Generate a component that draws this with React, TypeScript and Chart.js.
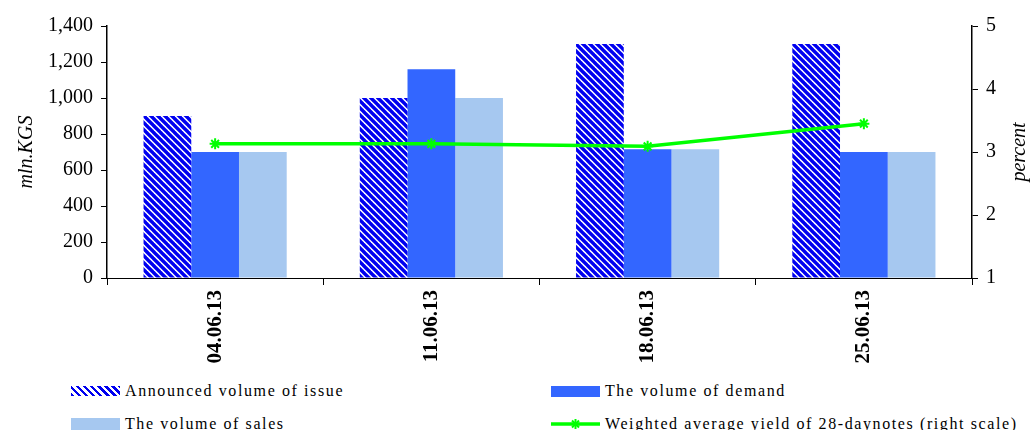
import React, { useEffect, useRef } from "react";
import { Chart, registerables } from "chart.js";

Chart.register(...registerables);

const categories = ["04.06.13", "11.06.13", "18.06.13", "25.06.13"];
const announcedVolume = [900, 1000, 1300, 1300];
const demandVolume = [700, 1160, 715, 700];
const salesVolume = [700, 1000, 715, 700];
const weightedYield = [3.13, 3.13, 3.09, 3.45];

const leftAxisMin = 0;
const leftAxisMax = 1400;
const leftAxisStep = 200;
const rightAxisMin = 1;
const rightAxisMax = 5;
const rightAxisStep = 1;

const seriesNames = [
  "Announced volume of issue",
  "The volume of demand",
  "The volume of sales",
  "Weighted average yield of 28-daynotes (right scale)",
];

const SERIF = '"Liberation Serif", "Times New Roman", serif';
const HATCH_BLUE = "#0000f0";
const DEMAND_BLUE = "#3366ff";
const SALES_BLUE = "#a6c8f0";
const GREEN = "#00ff00";

function makeHatch(): CanvasPattern | string {
  const size = 7;
  const c = document.createElement("canvas");
  c.width = size;
  c.height = size;
  const g = c.getContext("2d");
  if (!g) return HATCH_BLUE;
  g.fillStyle = "#ffffff";
  g.fillRect(0, 0, size, size);
  g.strokeStyle = HATCH_BLUE;
  g.lineWidth = 3.4;
  for (let k = -1; k <= 1; k++) {
    g.beginPath();
    g.moveTo(k * size - 1, -1);
    g.lineTo(k * size + size + 1, size + 1);
    g.stroke();
  }
  const p = g.createPattern(c, "repeat");
  return p || HATCH_BLUE;
}

const rightTitlePlugin = {
  id: "rightTitle",
  afterDraw(chart: any) {
    const { ctx, chartArea } = chart;
    ctx.save();
    ctx.translate(chart.width - 12, (chartArea.top + chartArea.bottom) / 2);
    ctx.rotate(-Math.PI / 2);
    ctx.font = `italic 20px ${SERIF}`;
    ctx.fillStyle = "#000";
    ctx.textAlign = "center";
    ctx.textBaseline = "middle";
    ctx.fillText("percent", 0, 0);
    ctx.restore();
  },
};

function LegendItem({ left, top, swatch, label }: { left: number; top: number; swatch: React.ReactNode; label: string }) {
  return (
    <div
      style={{
        position: "absolute",
        left,
        top,
        height: 16,
        display: "flex",
        alignItems: "center",
        whiteSpace: "nowrap",
      }}
    >
      <div style={{ width: 49, height: 16, display: "flex", alignItems: "center" }}>{swatch}</div>
      <span
        style={{
          marginLeft: 5,
          fontFamily: SERIF,
          fontSize: 16,
          letterSpacing: "1.6px",
          color: "#000",
          lineHeight: "16px",
        }}
      >
        {label}
      </span>
    </div>
  );
}

export default function App() {
  const canvasRef = useRef<HTMLCanvasElement | null>(null);

  useEffect(() => {
    const canvas = canvasRef.current;
    if (!canvas) return;
    const hatch = makeHatch();
    const chart = new Chart(canvas, {
      type: "bar",
      data: {
        labels: categories,
        datasets: [
          {
            type: "line",
            label: seriesNames[3],
            data: weightedYield,
            yAxisID: "y1",
            borderColor: GREEN,
            backgroundColor: GREEN,
            borderWidth: 3.5,
            pointStyle: "star",
            pointRadius: 5.5,
            pointBorderWidth: 2,
            pointBorderColor: GREEN,
            pointBackgroundColor: GREEN,
            tension: 0,
            order: 1,
          } as any,
          {
            label: seriesNames[0],
            data: announcedVolume,
            backgroundColor: hatch as any,
            borderWidth: 0,
            yAxisID: "y",
            order: 2,
          },
          {
            label: seriesNames[1],
            data: demandVolume,
            backgroundColor: DEMAND_BLUE,
            borderWidth: 0,
            yAxisID: "y",
            order: 2,
          },
          {
            label: seriesNames[2],
            data: salesVolume,
            backgroundColor: SALES_BLUE,
            borderWidth: 0,
            yAxisID: "y",
            order: 2,
          },
        ],
      },
      options: {
        responsive: false,
        animation: false,
        layout: { padding: { top: 26, left: 0, right: 0, bottom: 0 } },
        datasets: {
          bar: { categoryPercentage: 0.662, barPercentage: 1 },
        },
        plugins: {
          legend: { display: false },
          tooltip: { enabled: false },
        },
        scales: {
          x: {
            offset: true,
            grid: {
              display: true,
              offset: true,
              drawOnChartArea: false,
              drawTicks: true,
              tickLength: 7,
              color: "#000",
              lineWidth: 1,
            },
            border: { display: true, color: "#000", width: 1 },
            ticks: {
              minRotation: 90,
              maxRotation: 90,
              padding: 5,
              color: "#000",
              font: { family: SERIF, size: 21, weight: "bold" },
            },
            afterFit(scale: any) {
              scale.height = 102;
            },
          },
          y: {
            position: "left",
            min: leftAxisMin,
            max: leftAxisMax,
            grid: {
              display: true,
              drawOnChartArea: false,
              drawTicks: true,
              tickLength: 6,
              color: "#000",
            },
            border: { display: true, color: "#000", width: 1.5 },
            ticks: {
              stepSize: leftAxisStep,
              padding: 8,
              color: "#000",
              font: { family: SERIF, size: 20 },
              callback: (v: any) => Number(v).toLocaleString("en-US"),
            },
            title: {
              display: true,
              text: "mln.KGS",
              color: "#000",
              font: { family: SERIF, size: 20, style: "italic" },
              padding: { top: 15, bottom: 4 },
            },
            afterFit(scale: any) {
              scale.width = 107;
            },
          },
          y1: {
            position: "right",
            min: rightAxisMin,
            max: rightAxisMax,
            grid: {
              display: true,
              drawOnChartArea: false,
              drawTicks: true,
              tickLength: 6,
              color: "#000",
            },
            border: { display: true, color: "#000", width: 1.5 },
            ticks: {
              stepSize: rightAxisStep,
              padding: 8,
              color: "#000",
              font: { family: SERIF, size: 20 },
            },
            afterFit(scale: any) {
              scale.width = 60;
            },
          },
        },
      },
      plugins: [rightTitlePlugin],
    });
    return () => chart.destroy();
  }, []);

  const hatchCss = `repeating-linear-gradient(45deg, ${HATCH_BLUE} 0px, ${HATCH_BLUE} 2.6px, #ffffff 2.6px, #ffffff 5px)`;

  return (
    <div style={{ position: "fixed", left: 0, top: 0, width: 1032, height: 430, background: "#fff", overflow: "hidden" }}>
      <canvas ref={canvasRef} width={1032} height={380} style={{ position: "absolute", left: 0, top: 0 }} />
      <LegendItem
        left={71}
        top={383}
        label={seriesNames[0]}
        swatch={<div style={{ width: 49, height: 10, background: hatchCss }} />}
      />
      <LegendItem
        left={551}
        top={383}
        label={seriesNames[1]}
        swatch={<div style={{ width: 49, height: 11, background: DEMAND_BLUE }} />}
      />
      <LegendItem
        left={71}
        top={416}
        label={seriesNames[2]}
        swatch={<div style={{ width: 49, height: 12, background: SALES_BLUE }} />}
      />
      <LegendItem
        left={551}
        top={416}
        label={seriesNames[3]}
        swatch={
          <svg width={49} height={14} viewBox="0 0 49 14">
            <line x1={0} y1={7} x2={49} y2={7} stroke={GREEN} strokeWidth={3.5} />
            <line x1={24.5} y1={2} x2={24.5} y2={12} stroke={GREEN} strokeWidth={2} />
            <line x1={19.5} y1={7} x2={29.5} y2={7} stroke={GREEN} strokeWidth={2} />
            <line x1={21} y1={3.5} x2={28} y2={10.5} stroke={GREEN} strokeWidth={2} />
            <line x1={28} y1={3.5} x2={21} y2={10.5} stroke={GREEN} strokeWidth={2} />
          </svg>
        }
      />
    </div>
  );
}
